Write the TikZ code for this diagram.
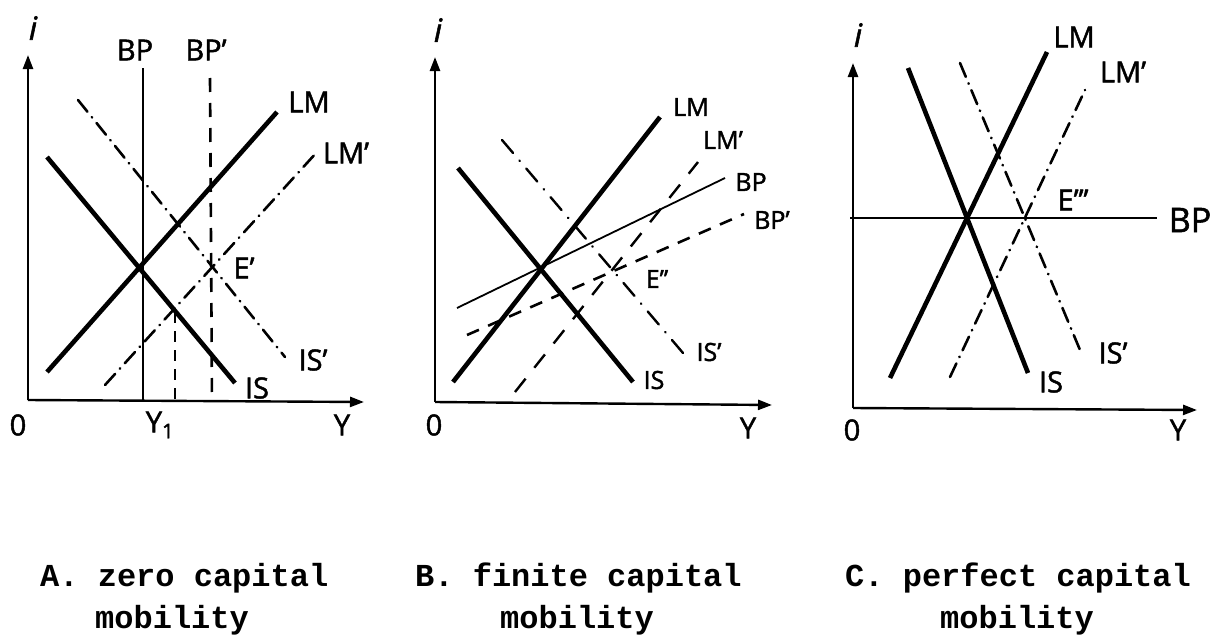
\documentclass[tikz,border=0pt]{standalone}
\usepackage{fontspec}
\setmainfont{Open Sans}[FakeBold=1.6]
\newfontfamily\capfont{Liberation Mono}
\usetikzlibrary{arrows.meta}
\begin{document}
\begin{tikzpicture}[x=1pt,y=-1pt,
  axis/.style={line width=2.4pt, -{Triangle[length=14pt,width=10pt]}},
  thickline/.style={line width=4.6pt},
  thinline/.style={line width=1.8pt},
  dashdot/.style={line width=2.6pt, line cap=round, dash pattern=on 15pt off 7pt on 0.5pt off 7pt},
  dashline/.style={line width=2.6pt, dash pattern=on 14pt off 11pt},
  lbl/.style={font=\fontsize{29}{29}\selectfont, inner sep=0pt},
  slbl/.style={font=\fontsize{25}{25}\selectfont, inner sep=0pt},
  ilbl/.style={font=\itshape\fontsize{32}{32}\selectfont, inner sep=0pt},
  captext/.style={font=\capfont\bfseries\fontsize{32}{32}\selectfont, inner sep=0pt, anchor=west}
]
\useasboundingbox (0,0) rectangle (1222,634);

% ================= Panel A =================
\coordinate (Ao) at (28,400);
\coordinate (Ayt) at (28,55);
\coordinate (Axt) at (364,402);
\draw[axis] (Ao) -- (Ayt);
\draw[axis] (Ao) -- (Axt);
\coordinate (AbpT) at (143,68);  \coordinate (AbpB) at (143,400);
\draw[thinline] (AbpT) -- (AbpB);
\coordinate (AbpdT) at (210,78); \coordinate (AbpdB) at (212,401);
\draw[dashline] (AbpdT) -- (AbpdB);
\coordinate (AyT) at (175,312); \coordinate (AyB) at (175,401);
\draw[line width=2.4pt, dash pattern=on 11pt off 8pt] (AyT) -- (AyB);
\coordinate (AlmA) at (47,372); \coordinate (AlmB) at (277,112);
\draw[thickline] (AlmA) -- (AlmB);
\coordinate (AisA) at (47,157); \coordinate (AisB) at (235,383);
\draw[thickline] (AisA) -- (AisB);
\coordinate (AlmpA) at (105,385); \coordinate (AlmpB) at (317,152);
\draw[dashdot] (AlmpA) -- (AlmpB);
\coordinate (AispA) at (78,100); \coordinate (AispB) at (285,357);
\draw[dashdot] (AispA) -- (AispB);
\node[ilbl] (Ai) at (33,28) {i};
\node[lbl] (Abp) at (135,50) {BP};
\node[lbl] (Abpp) at (206,50) {BP’};
\node[lbl] (Alm) at (309,102) {LM};
\node[lbl] (Almp) at (346,153) {LM’};
\node[lbl] (AE) at (244,268) {E’};
\node[lbl] (Aisp) at (313,360) {IS’};
\node[lbl] (Ais) at (257,388) {IS};
\node[lbl] (A0) at (18,425) {0};
\node[lbl] (Ay1) at (160,425) {Y\textsubscript{1}};
\node[lbl] (AY) at (342,425) {Y};

% ================= Panel B =================
\coordinate (Bo) at (435,402);
\coordinate (Byt) at (435,57);
\coordinate (Bxt) at (772,405);
\draw[axis] (Bo) -- (Byt);
\draw[axis] (Bo) -- (Bxt);
\coordinate (BlmA) at (453,382); \coordinate (BlmB) at (660,117);
\draw[thickline] (BlmA) -- (BlmB);
\coordinate (BisA) at (458,168); \coordinate (BisB) at (633,382);
\draw[thickline] (BisA) -- (BisB);
\coordinate (BlmpA) at (515,392); \coordinate (BlmpB) at (698,162);
\draw[line width=2.4pt, dash pattern=on 17pt off 14pt] (BlmpA) -- (BlmpB);
\coordinate (BbpA) at (457,308); \coordinate (BbpB) at (725,178);
\draw[thinline] (BbpA) -- (BbpB);
\coordinate (BbppA) at (467,335); \coordinate (BbppB) at (744,214);
\draw[line width=2.6pt, dash pattern=on 13pt off 10pt] (BbppA) -- (BbppB);
\coordinate (BispA) at (502,140); \coordinate (BispB) at (683,353);
\draw[line width=2.4pt, line cap=round, dash pattern=on 17pt off 10pt on 0.5pt off 10pt] (BispA) -- (BispB);
\node[ilbl] (Bi) at (438,30) {i};
\node[slbl] (Blm) at (691,107) {LM};
\node[slbl] (Blmp) at (723,140) {LM’};
\node[slbl] (Bbp) at (751,182) {BP};
\node[slbl] (Bbpp) at (772,220) {BP’};
\node[slbl] (BE) at (657,279) {E’’};
\node[slbl] (Bisp) at (709,352) {IS’};
\node[slbl] (Bis) at (654,380) {IS};
\node[lbl] (B0) at (434,425) {0};
\node[lbl] (BY) at (748,428) {Y};

% ================= Panel C =================
\coordinate (Co) at (853,408);
\coordinate (Cyt) at (853,63);
\coordinate (Cxt) at (1197,410);
\draw[axis] (Co) -- (Cyt);
\draw[axis] (Co) -- (Cxt);
\coordinate (CbpA) at (850,218); \coordinate (CbpB) at (1157,218);
\draw[thinline] (CbpA) -- (CbpB);
\coordinate (ClmA) at (890,378); \coordinate (ClmB) at (1047,52);
\draw[thickline] (ClmA) -- (ClmB);
\coordinate (CisA) at (908,68); \coordinate (CisB) at (1028,373);
\draw[thickline] (CisA) -- (CisB);
\coordinate (ClmpA) at (950,377); \coordinate (ClmpB) at (1085,90);
\draw[dashdot] (ClmpA) -- (ClmpB);
\coordinate (CispA) at (960,63); \coordinate (CispB) at (1080,350);
\draw[dashdot] (CispA) -- (CispB);
\node[ilbl] (Ci) at (858,35) {i};
\node[lbl] (Clm) at (1074,37) {LM};
\node[lbl] (Clmp) at (1123,72) {LM’};
\node[lbl] (CE) at (1073,200) {E’’’};
\node[font=\fontsize{34}{34}\selectfont, inner sep=0pt] (Cbp) at (1190,220) {BP};
\node[lbl] (Cisp) at (1113,353) {IS’};
\node[lbl] (Cis) at (1051,382) {IS};
\node[lbl] (C0) at (852,430) {0};
\node[lbl] (CY) at (1178,430) {Y};

% ================= Captions =================
\node[captext] (capA1) at (40,578) {A. zero capital};
\node[captext] (capA2) at (95,620) {mobility};
\node[captext] (capB1) at (415,578) {B. finite capital};
\node[captext] (capB2) at (500,620) {mobility};
\node[captext] (capC1) at (845,578) {C. perfect capital};
\node[captext] (capC2) at (940,620) {mobility};
\end{tikzpicture}
\end{document}
